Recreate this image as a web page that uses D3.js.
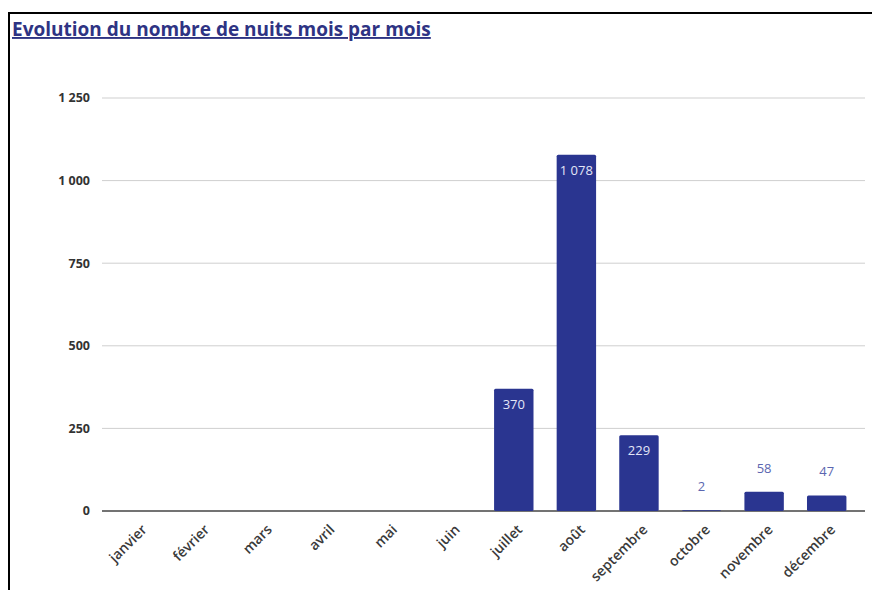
<!DOCTYPE html>
<html>
<head>
<meta charset="utf-8">
<script src="https://cdn.jsdelivr.net/npm/d3@7"></script>
<style>
  body { margin: 0; background: #fff; }
  svg { display: block; font-family: "Open Sans", "DejaVu Sans", sans-serif; }
</style>
</head>
<body>
<svg width="872" height="590"></svg>
<script>
// data
const months = ["janvier", "février", "mars", "avril", "mai", "juin",
  "juillet", "août", "septembre", "octobre", "novembre", "décembre"];
const nights = [0, 0, 0, 0, 0, 0, 370, 1078, 229, 2, 58, 47];
const yTicks = [0, 250, 500, 750, 1000, 1250];

const svg = d3.select("svg");
const fmt = d3.formatLocale({ decimal: ",", thousands: "\u00a0", grouping: [3], currency: ["", " €"] }).format(",d");

// frame (top + left lines)
svg.append("line").attr("x1", 8).attr("x2", 872).attr("y1", 13).attr("y2", 13)
  .attr("stroke", "#000").attr("stroke-width", 2);
svg.append("line").attr("x1", 9).attr("x2", 9).attr("y1", 12).attr("y2", 590)
  .attr("stroke", "#000").attr("stroke-width", 2);

// title
svg.append("text").attr("x", 12).attr("y", 36)
  .attr("fill", "#2e3383").attr("font-size", 19).attr("font-weight", 700)
  .attr("text-decoration", "underline")
  .text("Evolution du nombre de nuits mois par mois");

const x = d3.scaleBand().domain(months).range([107, 858])
  .paddingInner(0.37).paddingOuter(0.185);
const y = d3.scaleLinear().domain([0, 1250]).range([511, 98]);

// gridlines + y labels
const yAxis = svg.append("g");
yAxis.selectAll("line").data(yTicks).join("line")
  .attr("x1", 102).attr("x2", 865)
  .attr("y1", d => y(d)).attr("y2", d => y(d))
  .attr("stroke", d => d === 0 ? "#444" : "#cfcfcf")
  .attr("stroke-width", d => d === 0 ? 1.5 : 1);
yAxis.selectAll("text").data(yTicks).join("text")
  .attr("x", 90).attr("y", d => y(d)).attr("dy", "0.35em")
  .attr("text-anchor", "end").attr("font-size", 12.5).attr("font-weight", 700)
  .attr("fill", "#333").text(d => fmt(d));

// bars
svg.append("g").selectAll("rect").data(nights).join("rect")
  .attr("x", (d, i) => x(months[i]))
  .attr("y", d => y(d))
  .attr("width", x.bandwidth())
  .attr("height", d => y(0) - y(d))
  .attr("rx", 1.5)
  .attr("fill", "#2a3590");

// value labels: inside tall bars, above short ones
svg.append("g").selectAll("text").data(nights.map((v, i) => [v, i]).filter(d => d[0] > 0)).join("text")
  .attr("x", d => x(months[d[1]]) + x.bandwidth() / 2)
  .attr("y", d => d[0] > 150 ? y(d[0]) + 20 : y(d[0]) - 19)
  .attr("text-anchor", "middle").attr("font-size", 13)
  .attr("fill", d => d[0] > 150 ? "#e4e6f7" : "#5b66b0")
  .text(d => fmt(d[0]));

// x labels rotated
svg.append("g").selectAll("text").data(months).join("text")
  .attr("transform", d => `translate(${x(d) + x.bandwidth() / 2 + 6},${527}) rotate(-45)`)
  .attr("text-anchor", "end").attr("dy", "0.35em")
  .attr("font-size", 14).attr("font-weight", 600).attr("fill", "#3a3a3a")
  .text(d => d);
</script>
</body>
</html>
